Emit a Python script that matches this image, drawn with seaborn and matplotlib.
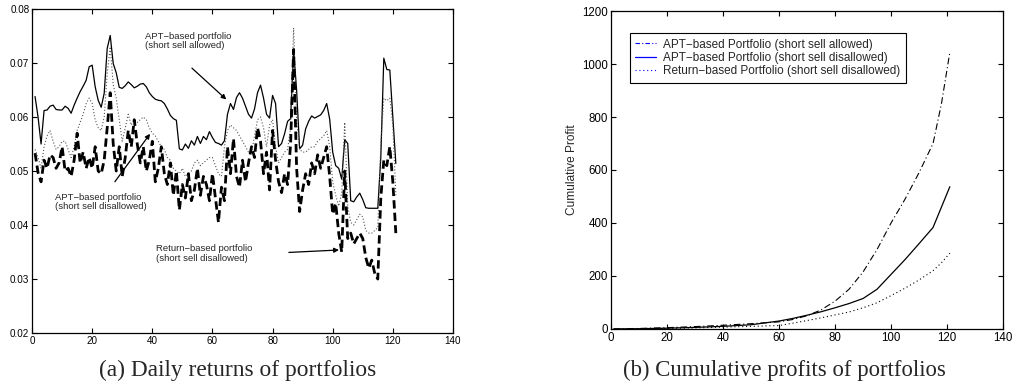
import numpy as np
import pandas as pd
import seaborn as sns
import matplotlib.pyplot as plt
from matplotlib.lines import Line2D

# daily returns (left panel), days 1..121
days = list(range(1, 122))
apt_allowed = [
    0.0638, 0.0600, 0.0550, 0.0612, 0.0613, 0.0620, 0.0622, 0.0614, 0.0613, 0.0613,
    0.0620, 0.0616, 0.0607, 0.0622, 0.0635, 0.0647, 0.0657, 0.0668, 0.0693, 0.0696,
    0.0656, 0.0631, 0.0618, 0.0644, 0.0727, 0.0751, 0.0699, 0.0682, 0.0655, 0.0653,
    0.0658, 0.0665, 0.0660, 0.0654, 0.0657, 0.0661, 0.0662, 0.0656, 0.0645, 0.0638,
    0.0633, 0.0631, 0.0630, 0.0625, 0.0615, 0.0603, 0.0597, 0.0594, 0.0541, 0.0539,
    0.0550, 0.0542, 0.0556, 0.0548, 0.0564, 0.0551, 0.0564, 0.0558, 0.0573, 0.0562,
    0.0553, 0.0551, 0.0548, 0.0556, 0.0605, 0.0625, 0.0614, 0.0636, 0.0645, 0.0635,
    0.0620, 0.0605, 0.0598, 0.0615, 0.0645, 0.0659, 0.0635, 0.0605, 0.0598, 0.0640,
    0.0625, 0.0545, 0.0551, 0.0569, 0.0592, 0.0597, 0.0724, 0.0650, 0.0541, 0.0548,
    0.0578, 0.0592, 0.0602, 0.0598, 0.0601, 0.0604, 0.0612, 0.0625, 0.0596, 0.0535,
    0.0510, 0.0505, 0.0485, 0.0558, 0.0551, 0.0445, 0.0443, 0.0452, 0.0459, 0.0447,
    0.0432, 0.0431, 0.0431, 0.0431, 0.0431, 0.0525, 0.0709, 0.0688, 0.0687, 0.0600,
    0.0514]
apt_disallowed = [
    0.0540, 0.0525, 0.0505, 0.0545, 0.0565, 0.0575, 0.0555, 0.0540, 0.0545, 0.0555,
    0.0555, 0.0540, 0.0525, 0.0545, 0.0575, 0.0590, 0.0605, 0.0625, 0.0635, 0.0625,
    0.0595, 0.0580, 0.0575, 0.0600, 0.0680, 0.0730, 0.0660, 0.0635, 0.0595, 0.0555,
    0.0580, 0.0605, 0.0585, 0.0595, 0.0590, 0.0595, 0.0600, 0.0595, 0.0580, 0.0570,
    0.0565, 0.0555, 0.0545, 0.0540, 0.0525, 0.0520, 0.0505, 0.0500, 0.0495, 0.0505,
    0.0490, 0.0495, 0.0500, 0.0515, 0.0520, 0.0510, 0.0515, 0.0520, 0.0525, 0.0525,
    0.0510, 0.0495, 0.0490, 0.0545, 0.0575, 0.0585, 0.0580, 0.0575, 0.0565, 0.0555,
    0.0545, 0.0535, 0.0535, 0.0565, 0.0595, 0.0600, 0.0580, 0.0545, 0.0585, 0.0595,
    0.0545, 0.0515, 0.0525, 0.0535, 0.0540, 0.0580, 0.0765, 0.0595, 0.0540, 0.0535,
    0.0535, 0.0540, 0.0545, 0.0545, 0.0555, 0.0560, 0.0565, 0.0575, 0.0545, 0.0480,
    0.0455, 0.0435, 0.0460, 0.0590, 0.0435, 0.0405, 0.0400, 0.0410, 0.0420, 0.0415,
    0.0390, 0.0385, 0.0385, 0.0390, 0.0395, 0.0550, 0.0635, 0.0630, 0.0635, 0.0585,
    0.0455]
return_based = [
    0.0533, 0.0497, 0.0480, 0.0520, 0.0505, 0.0530, 0.0525, 0.0505, 0.0515, 0.0545,
    0.0500, 0.0505, 0.0490, 0.0520, 0.0570, 0.0515, 0.0535, 0.0505, 0.0525, 0.0505,
    0.0545, 0.0500, 0.0495, 0.0520, 0.0580, 0.0645, 0.0550, 0.0500, 0.0545, 0.0490,
    0.0525, 0.0575, 0.0545, 0.0595, 0.0550, 0.0515, 0.0545, 0.0500, 0.0520, 0.0555,
    0.0480, 0.0505, 0.0545, 0.0495, 0.0475, 0.0515, 0.0455, 0.0500, 0.0428, 0.0475,
    0.0450, 0.0495, 0.0445, 0.0465, 0.0505, 0.0455, 0.0490, 0.0475, 0.0445, 0.0495,
    0.0450, 0.0405, 0.0470, 0.0445, 0.0545, 0.0495, 0.0560, 0.0490, 0.0470, 0.0520,
    0.0480, 0.0515, 0.0545, 0.0525, 0.0580, 0.0555, 0.0495, 0.0535, 0.0465, 0.0575,
    0.0520, 0.0480, 0.0460, 0.0495, 0.0475, 0.0550, 0.0725, 0.0505, 0.0425, 0.0465,
    0.0495, 0.0475, 0.0515, 0.0495, 0.0530, 0.0505, 0.0525, 0.0545, 0.0490, 0.0420,
    0.0440, 0.0385, 0.0350, 0.0500, 0.0375, 0.0385, 0.0365, 0.0375, 0.0385, 0.0375,
    0.0340, 0.0320, 0.0335, 0.0310, 0.0300, 0.0450, 0.0520, 0.0510, 0.0545, 0.0480,
    0.0385]

# cumulative profits (right panel)
cum_days = [1, 10, 20, 30, 40, 50, 60, 65, 70, 75, 80, 85, 90, 95, 100, 105, 110, 115, 118, 121]
cum_apt_allowed = [0, 2, 5, 9, 14, 20, 27, 36, 50, 72, 105, 150, 215, 300, 400, 490, 590, 700, 850, 1045]
cum_apt_disallowed = [0, 1, 3, 6, 10, 16, 30, 40, 52, 65, 80, 96, 115, 150, 206, 262, 322, 383, 460, 537]
cum_return_based = [0, 1, 2, 4, 7, 10, 13, 22, 32, 42, 53, 64, 80, 99, 126, 154, 185, 220, 250, 286]

legend_labels = ["APT\u2212based Portfolio (short sell allowed)",
                 "APT\u2212based Portfolio (short sell disallowed)",
                 "Return\u2212based Portfolio (short sell disallowed)"]

sns.set_style("ticks")
plt.rcParams['font.family'] = ['Liberation Sans', 'DejaVu Sans']
plt.rcParams['xtick.direction'] = 'in'
plt.rcParams['ytick.direction'] = 'in'
plt.rcParams['xtick.top'] = True
plt.rcParams['ytick.right'] = True

fig = plt.figure(figsize=(10.14, 3.85), dpi=100)
ax1 = fig.add_axes([0.0316, 0.135, 0.4151, 0.8416])
ax2 = fig.add_axes([0.6026, 0.1455, 0.3866, 0.8259])

# left panel
ret = pd.DataFrame({"day": days, "a": apt_allowed, "d": apt_disallowed, "r": return_based})
sns.lineplot(data=ret, x="day", y="a", ax=ax1, color="black", linewidth=0.9)
sns.lineplot(data=ret, x="day", y="d", ax=ax1, color="#555555", linewidth=0.8, linestyle=(0, (1, 1.8)))
sns.lineplot(data=ret, x="day", y="r", ax=ax1, color="black", linewidth=2.0, linestyle=(0, (3, 1.5)))
ax1.set_xlim(0, 140)
ax1.set_ylim(0.02, 0.08)
ax1.set_xticks(range(0, 141, 20))
ax1.set_yticks([0.02, 0.03, 0.04, 0.05, 0.06, 0.07, 0.08])
ax1.set_yticklabels(["0.02", "0.03", "0.04", "0.05", "0.06", "0.07", "0.08"])
ax1.set_xlabel("")
ax1.set_ylabel("")
ax1.tick_params(labelsize=7.1)

arrow = dict(arrowstyle="-|>", color="black", lw=0.9, mutation_scale=7)
ax1.annotate("", xy=(65.3, 0.0629), xytext=(52.5, 0.0694), arrowprops=arrow)
ax1.text(37.6, 0.0758, "APT\u2212based portfolio\n(short sell allowed)", fontsize=6.8, va="top", linespacing=1.1)
ax1.annotate("", xy=(39.8, 0.0573), xytext=(27.0, 0.0476), arrowprops=arrow)
ax1.text(7.6, 0.0460, "APT\u2212based portfolio\n(short sell disallowed)", fontsize=6.8, va="top", linespacing=1.1)
ax1.annotate("", xy=(103.0, 0.0354), xytext=(84.5, 0.0349), arrowprops=arrow)
ax1.text(41.2, 0.0364, "Return\u2212based portfolio\n(short sell disallowed)", fontsize=6.8, va="top", linespacing=1.1)

# right panel
cum = pd.DataFrame({"day": cum_days, "a": cum_apt_allowed, "d": cum_apt_disallowed, "r": cum_return_based})
sns.lineplot(data=cum, x="day", y="a", ax=ax2, color="black", linewidth=0.8, linestyle=(0, (6, 2.5, 1, 2.5)))
sns.lineplot(data=cum, x="day", y="d", ax=ax2, color="black", linewidth=0.9)
sns.lineplot(data=cum, x="day", y="r", ax=ax2, color="black", linewidth=0.8, linestyle=(0, (1, 2.5)))
ax2.set_xlim(0, 140)
ax2.set_ylim(0, 1200)
ax2.set_xticks(range(0, 141, 20))
ax2.set_yticks(range(0, 1201, 200))
ax2.set_xlabel("")
ax2.set_ylabel("Cumulative Profit", fontsize=8.6, labelpad=3)
ax2.tick_params(labelsize=8.3)

handles = [Line2D([], [], color="blue", lw=0.8, linestyle=(0, (4, 2, 1, 2))),
           Line2D([], [], color="blue", lw=0.9),
           Line2D([], [], color="blue", lw=0.8, linestyle=(0, (1, 2.5)))]
leg = ax2.legend(handles, legend_labels, loc="upper left", bbox_to_anchor=(0.048, 0.93),
                 fontsize=8.5, frameon=True, fancybox=False, framealpha=1, edgecolor="black",
                 handlelength=1.8, handletextpad=0.6, borderpad=0.45, labelspacing=0.12,
                 borderaxespad=0)
leg.get_frame().set_linewidth(0.8)

for ax in (ax1, ax2):
    for s in ax.spines.values():
        s.set_visible(True)
        s.set_linewidth(0.9)
        s.set_color("black")
    ax.tick_params(length=3.5, width=0.8, pad=2, colors="black")

fig.text(0.2342, 0.039, "(a) Daily returns of portfolios", fontsize=16.8,
         family=["Liberation Serif", "DejaVu Serif"], ha="center", va="center")
fig.text(0.7735, 0.039, "(b) Cumulative profits of portfolios", fontsize=16.4,
         family=["Liberation Serif", "DejaVu Serif"], ha="center", va="center")

fig.savefig("out.png", dpi=100)
